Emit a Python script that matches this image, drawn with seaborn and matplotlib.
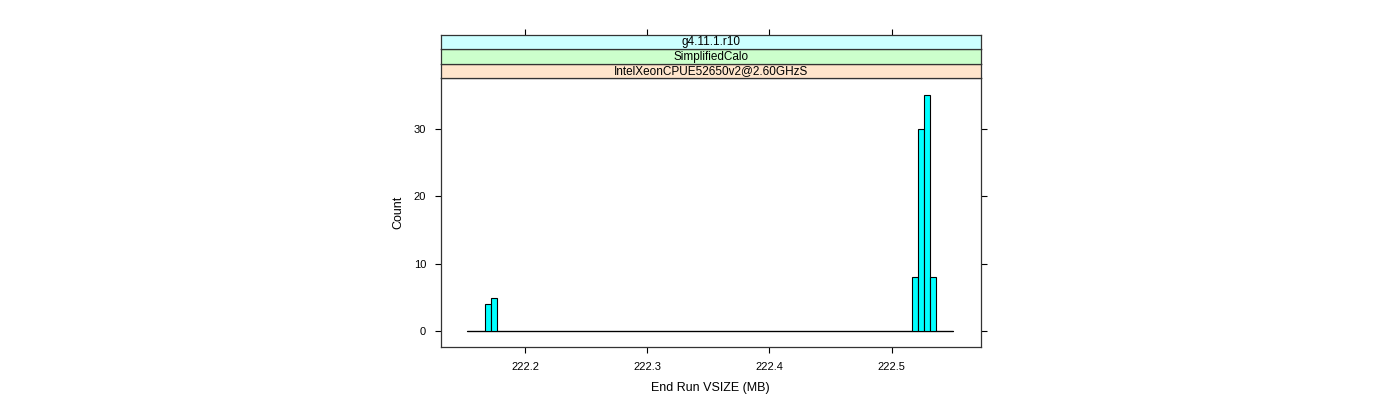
import pandas as pd
import matplotlib
matplotlib.use("Agg")
import matplotlib.pyplot as plt
import seaborn as sns

OUTPUT_IMAGE = "out.png"

# histogram: bin centres of non-empty bins and their counts
vsize_mb = [222.1693, 222.1741, 222.5193, 222.5241, 222.5289, 222.5337]
counts = [4, 5, 8, 30, 35, 8]

# histogram breaks (the zero bins make the flat baseline)
break_start = 222.1525
break_end = 222.5505
n_bins = 83

strip_labels = ["g4.11.1.r10", "SimplifiedCalo", "IntelXeonCPUE52650v2@2.60GHzS"]
strip_colors = ["#ccffff", "#ccffcc", "#ffe5cc"]

x_ticks = [222.2, 222.3, 222.4, 222.5]
y_ticks = [0, 10, 20, 30]

FRAME = "#333333"
FS = 8


def main():
    sns.set_theme(style="white")
    plt.rcParams["font.family"] = ["Liberation Sans", "DejaVu Sans"]
    plt.rcParams["axes.edgecolor"] = FRAME
    plt.rcParams["axes.linewidth"] = 0.9

    df = pd.DataFrame({"vsize": vsize_mb, "count": counts})

    fig = plt.figure(figsize=(14, 4), dpi=100)
    left, right = 440.7 / 1400, 980.7 / 1400
    bottom, top = 1 - 347.3 / 400, 1 - 78 / 400
    ax = fig.add_axes([left, bottom, right - left, top - bottom])

    # baseline of the empty bins
    ax.plot([break_start, break_end], [0, 0], color="black", linewidth=0.9, zorder=1)
    sns.histplot(data=df, x="vsize", weights="count", bins=n_bins,
                 binrange=(break_start, break_end), ax=ax,
                 color="#00ffff", edgecolor="black", linewidth=0.8, alpha=1, zorder=2)

    ax.set_xlim(222.1307, 222.573)
    ax.set_ylim(-2.37, 37.5)
    ax.set_xticks(x_ticks)
    ax.set_xticklabels([f"{t:.1f}" for t in x_ticks])
    ax.set_yticks(y_ticks)
    ax.tick_params(direction="out", length=4.5, width=0.8, color="black",
                   labelsize=FS, labelcolor="black", pad=6,
                   bottom=True, left=True, right=True, top=False)
    ax.set_xlabel("End Run VSIZE (MB)", fontsize=FS + 1, color="black", labelpad=7)
    ax.set_ylabel("Count", fontsize=FS + 1, color="black", labelpad=7)

    # lattice-style strips stacked above the panel (innermost level at bottom)
    strip_h = 14.5 / 400
    for i, (label, col) in enumerate(zip(reversed(strip_labels), reversed(strip_colors))):
        sax = fig.add_axes([left, top + i * strip_h, right - left, strip_h], sharex=ax)
        sax.set_facecolor(col)
        sax.set_yticks([])
        sax.text(0.5, 0.45, label, transform=sax.transAxes, ha="center", va="center",
                 fontsize=FS + 0.5, color="black")
        if i == len(strip_labels) - 1:
            sax.tick_params(axis="x", direction="out", length=4.5, width=0.8, color="black",
                            top=True, bottom=False, labeltop=False, labelbottom=False)
        else:
            sax.tick_params(axis="x", top=False, bottom=False,
                            labeltop=False, labelbottom=False)
        for sp in sax.spines.values():
            sp.set_color(FRAME)
            sp.set_linewidth(0.9)

    plt.savefig(OUTPUT_IMAGE, dpi=100)


if __name__ == "__main__":
    main()
